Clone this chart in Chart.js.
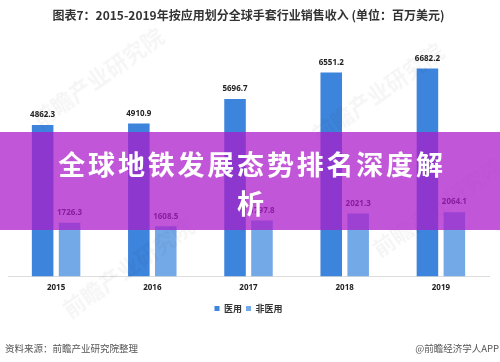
<!DOCTYPE html>
<html>
<head>
<meta charset="utf-8">
<script src="https://cdn.jsdelivr.net/npm/chart.js@4/dist/chart.umd.min.js"></script>
<style>
  html, body { margin: 0; padding: 0; background: #fff; }
  #wrap { position: relative; width: 500px; height: 362px; overflow: hidden;
    font-family: "Noto Sans CJK SC", "Noto Sans", sans-serif; }
  #chart { position: absolute; left: 0; top: 0; }
  .wm { position: absolute; color: rgba(0,0,0,0.04); font-size: 22px; font-weight: bold;
    transform: rotate(-35deg); white-space: nowrap; }
  #banner { position: absolute; left: 0; top: 132px; width: 500px; height: 98px;
    background: rgba(172, 28, 202, 0.74); }
  #banner div { position: absolute; left: 50px; top: 12px; width: 404px; color: #fff;
    font-size: 27px; font-weight: bold; line-height: 39px; letter-spacing: 2.8px;
    text-align: center; }
  .foot { position: absolute; top: 341px; font-size: 9.5px; color: #555; }
</style>
</head>
<body>
<div id="wrap">
  <canvas id="chart" width="500" height="362"></canvas>
  <div class="wm" style="left:20px;top:60px;">前瞻产业研究院</div>
  <div class="wm" style="left:300px;top:75px;">前瞻产业研究院</div>
  <div class="wm" style="left:50px;top:250px;">前瞻产业研究院</div>
  <div class="wm" style="left:360px;top:190px;">前瞻产业研究院</div>
  <div id="banner"><div>全球地铁发展态势排名深度解析</div></div>
  <div class="foot" style="left:5px;">资料来源：前瞻产业研究院整理</div>
  <div class="foot" style="right:1px;">@前瞻经济学人APP</div>
</div>
<script>
(function() {
  'use strict';

  const TITLE = '图表7：2015-2019年按应用划分全球手套行业销售收入 (单位：百万美元)';
  const years = ['2015', '2016', '2017', '2018', '2019'];
  const medical = [4862.3, 4910.9, 5696.7, 6551.2, 6682.2];
  const nonMedical = [1726.3, 1608.5, 1797.8, 2021.3, 2064.1];

  // 柱子上方数值
  const valueLabels = {
    id: 'valueLabels',
    afterDatasetsDraw(chart) {
      const ctx = chart.ctx;
      ctx.save();
      ctx.font = 'bold 8px "Noto Sans", sans-serif';
      ctx.fillStyle = '#222';
      ctx.textAlign = 'center';
      ctx.textBaseline = 'bottom';
      chart.data.datasets.forEach((ds, i) => {
        chart.getDatasetMeta(i).data.forEach((bar, j) => {
          ctx.fillText(ds.data[j].toFixed(1), bar.x, bar.y - 6);
        });
      });
      ctx.restore();
    }
  };

  const ctx = document.getElementById('chart').getContext('2d');
  new Chart(ctx, {
    type: 'bar',
    data: {
      labels: years,
      datasets: [{
        label: '医用',
        data: medical,
        backgroundColor: '#3d84dc'
      }, {
        label: '非医用',
        data: nonMedical,
        backgroundColor: '#74a9e8'
      }]
    },
    options: {
      responsive: false,
      animation: false,
      layout: { padding: { left: 8, right: 11, top: 0, bottom: 39 } },
      datasets: {
        bar: { categoryPercentage: 0.56, barPercentage: 0.8 }
      },
      plugins: {
        title: {
          display: true,
          text: TITLE,
          color: '#333',
          font: { size: 12, weight: 'bold', family: '"Noto Sans CJK SC", sans-serif' },
          padding: { top: 8, bottom: 5 }
        },
        legend: {
          position: 'bottom',
          labels: {
            boxWidth: 5,
            boxHeight: 5,
            padding: 4,
            color: '#333',
            font: { size: 9, weight: 'bold', family: '"Noto Sans CJK SC", sans-serif' }
          }
        },
        tooltip: { enabled: false }
      },
      scales: {
        y: { display: false, min: 0, max: 8000 },
        x: {
          grid: { display: false, drawTicks: false, tickLength: 0 },
          border: { color: '#ddd' },
          ticks: {
            padding: 7,
            color: '#222',
            font: { size: 8, weight: 'bold', family: '"Noto Sans", sans-serif' }
          }
        }
      }
    },
    plugins: [valueLabels]
  });
})();
</script>
</body>
</html>
